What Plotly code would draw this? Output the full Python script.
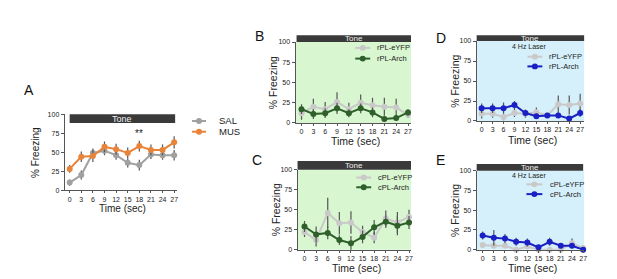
import plotly.graph_objects as go

W, H = 617, 279
time_s = [0, 3, 6, 9, 12, 15, 18, 21, 24, 27]
y_ticks = [0, 25, 50, 75, 100]

# Panel A
sal = [10, 20, 49, 52, 46, 36, 33, 47, 46, 46]
sal_err = [4, 6, 6, 6, 6, 6, 7, 6, 6, 7]
mus = [28, 44, 45, 57, 54, 49, 58, 53, 53, 63]
mus_err = [5, 7, 8, 7, 7, 7, 7, 7, 7, 8]
# Panel B
rpl_eyfp_b = [12, 20, 17, 26, 17, 25, 22, 20, 19, 10]
rpl_eyfp_b_err = [8, 10, 9, 12, 8, 10, 9, 11, 11, 4]
rpl_arch_b = [17, 11, 12, 18, 12, 18, 13, 5, 6, 13]
rpl_arch_b_err = [6, 6, 6, 7, 5, 6, 6, 3, 3, 4]
# Panel C
cpl_eyfp_c = [22, 12, 46, 33, 34, 22, 15, 39, 34, 41]
cpl_eyfp_c_err = [6, 8, 19, 14, 14, 8, 7, 10, 13, 9]
cpl_arch_c = [29, 19, 21, 12, 8, 16, 28, 35, 30, 34]
cpl_arch_c_err = [7, 10, 8, 6, 9, 8, 9, 8, 12, 8]
# Panel D
rpl_eyfp_d = [9, 9, 5, 10, 9, 11, 7, 21, 20, 22]
rpl_eyfp_d_err = [6, 5, 4, 5, 5, 6, 3, 11, 12, 12]
rpl_arch_d = [16, 16, 16, 20, 10, 6, 7, 7, 3, 10]
rpl_arch_d_err = [6, 6, 7, 5, 4, 3, 3, 3, 2, 5]
# Panel E
cpl_eyfp_e = [6, 5, 5, 0, 4, 0, 0, 0, 8, 2]
cpl_eyfp_e_err = [2, 2, 2, 1, 2, 1, 1, 1, 6, 2]
cpl_arch_e = [18, 15, 14, 10, 9, 3, 10, 5, 5, 0]
cpl_arch_e_err = [5, 10, 6, 5, 5, 2, 5, 3, 3, 2]

FONT = "Arial, Liberation Sans, sans-serif"
AX_COL = "#555555"
ERR_COL = "#555555"

panels = {
    "A": dict(l=65, r=178, x0=70, x27=175, y0=191, y100=113),
    "B": dict(l=297, r=413, x0=303, x27=410, y0=122, y100=39),
    "C": dict(l=299, r=413, x0=306, x27=411, y0=252, y100=170),
    "D": dict(l=479, r=587, x0=484, x27=583, y0=120, y100=38),
    "E": dict(l=479, r=587, x0=485, x27=586, y0=252, y100=171),
}

fig = go.Figure()
layout = dict(width=W, height=H, margin=dict(l=0, r=0, t=0, b=0),
              paper_bgcolor="white", plot_bgcolor="rgba(0,0,0,0)",
              showlegend=False, font=dict(family=FONT, color="#222"))
shapes, annots = [], []

def px(x):
    return x / W

def py(y):
    return 1 - y / H

series = {
    "A": [(sal, sal_err, "#a0a0a0"), (mus, mus_err, "#e8833a")],
    "B": [(rpl_eyfp_b, rpl_eyfp_b_err, "#c9c9c9"), (rpl_arch_b, rpl_arch_b_err, "#2f5f2b")],
    "C": [(cpl_eyfp_c, cpl_eyfp_c_err, "#c9c9c9"), (cpl_arch_c, cpl_arch_c_err, "#2f5f2b")],
    "D": [(rpl_eyfp_d, rpl_eyfp_d_err, "#c9c9c9"), (rpl_arch_d, rpl_arch_d_err, "#1a20c4")],
    "E": [(cpl_eyfp_e, cpl_eyfp_e_err, "#c9c9c9"), (cpl_arch_e, cpl_arch_e_err, "#1a20c4")],
}
bgs = {"A": None, "B": "#d8f6d0", "C": "#d8f6d0", "D": "#d5f0fa", "E": "#d5f0fa"}
tick_font = {"A": 7, "B": 7, "C": 7, "D": 7, "E": 7}
title_font = {"A": 10, "B": 10.5, "C": 10.5, "D": 10.5, "E": 10.5}

for i, (name, g) in enumerate(panels.items(), start=1):
    k = (g["x27"] - g["x0"]) / 27.0
    xr = [-(g["x0"] - g["l"]) / k, 27 + (g["r"] - g["x27"]) / k]
    xa = "xaxis" if i == 1 else f"xaxis{i}"
    ya = "yaxis" if i == 1 else f"yaxis{i}"
    xs = "x" if i == 1 else f"x{i}"
    ys = "y" if i == 1 else f"y{i}"
    layout[xa] = dict(domain=[px(g["l"]), px(g["r"])], range=xr, anchor=ys,
                      tickvals=time_s, ticks="outside", ticklen=2, tickcolor=AX_COL,
                      showline=True, linecolor=AX_COL, linewidth=1, showgrid=False,
                      zeroline=False, tickfont=dict(size=tick_font[name], family=FONT, color="#222"),
                      fixedrange=True)
    layout[ya] = dict(domain=[py(g["y0"]), py(g["y100"])], range=[0, 100], anchor=xs,
                      tickvals=y_ticks, ticks="outside", ticklen=3, tickcolor=AX_COL,
                      showline=True, linecolor=AX_COL, linewidth=1, showgrid=False,
                      zeroline=False, tickfont=dict(size=tick_font[name], family=FONT, color="#222"),
                      fixedrange=True)
    if bgs[name]:
        shapes.append(dict(type="rect", xref="paper", yref="paper",
                           x0=px(g["l"]), x1=px(g["r"]), y0=py(g["y0"]), y1=py(g["y100"]),
                           fillcolor=bgs[name], line=dict(width=0), layer="below"))
    for vals, errs, col in series[name]:
        fig.add_trace(go.Scatter(
            x=time_s, y=vals, xaxis=xs, yaxis=ys, mode="lines+markers",
            line=dict(color=col, width=2), marker=dict(color=col, size=6),
            error_y=dict(type="data", array=errs, color=ERR_COL, thickness=1.2, width=0),
            cliponaxis=False, hoverinfo="skip"))
    annots.append(dict(xref="paper", yref="paper", x=px((g["l"] + g["r"]) / 2 + 2),
                       y=py(g["y0"] + 19), text="Time (sec)", showarrow=False,
                       xanchor="center", yanchor="middle",
                       font=dict(size=title_font[name], family=FONT, color="#222")))
    annots.append(dict(xref="paper", yref="paper", x=px(g["l"] - 22 if name != "A" else g["l"] - 30),
                       y=py((g["y0"] + g["y100"]) / 2), text="% Freezing", textangle=-90,
                       showarrow=False, xanchor="center", yanchor="middle",
                       font=dict(size=title_font[name], family=FONT, color="#222")))

tone_bars = {
    "A": (70, 176, 113, 122, 9),
    "B": (298, 413, 32, 39, 8),
    "C": (299, 413, 161, 170, 8),
    "D": (479, 587, 32, 38, 8),
    "E": (479, 586, 164, 171, 8),
}
for name, (x0, x1, y0, y1, fs) in tone_bars.items():
    shapes.append(dict(type="rect", xref="paper", yref="paper", x0=px(x0), x1=px(x1),
                       y0=py(y1), y1=py(y0), fillcolor="#3a3a3a", line=dict(width=0)))
    annots.append(dict(xref="paper", yref="paper", x=px((x0 + x1) / 2), y=py((y0 + y1) / 2),
                       text="Tone", showarrow=False, xanchor="center", yanchor="middle",
                       font=dict(size=fs, family=FONT, color="#f0f0f0")))

for name, (x, y) in {"A": (29, 88), "B": (261, 33), "C": (258, 160), "D": (443, 35), "E": (443, 160)}.items():
    annots.append(dict(xref="paper", yref="paper", x=px(x), y=py(y), text=name, showarrow=False,
                       xanchor="center", yanchor="middle", font=dict(size=14, family=FONT, color="#111")))

annots.append(dict(xref="x", yref="y", x=18, y=74, text="**", showarrow=False,
                   font=dict(size=10, family=FONT, color="#222")))

for y in (44, 176):
    annots.append(dict(xref="paper", yref="paper", x=px(532), y=py(y), text="4 Hz Laser",
                       showarrow=False, xanchor="center", yanchor="middle",
                       font=dict(size=7, family=FONT, color="#222")))

legends = [
    (193, 207, 218, 120, "SAL", "#a0a0a0", 9.5),
    (193, 207, 218, 131, "MUS", "#e8833a", 9.5),
    (357, 372, 377, 45, "rPL-eYFP", "#c9c9c9", 7.5),
    (357, 372, 377, 56, "rPL-Arch", "#2f5f2b", 7.5),
    (358, 373, 378, 178, "cPL-eYFP", "#c9c9c9", 7.5),
    (358, 373, 378, 188, "cPL-Arch", "#2f5f2b", 7.5),
    (530, 545, 550, 54, "rPL-eYFP", "#c9c9c9", 7.5),
    (530, 545, 550, 64, "rPL-Arch", "#1a20c4", 7.5),
    (529, 545, 551, 185, "cPL-eYFP", "#c9c9c9", 7.5),
    (529, 545, 551, 195, "cPL-Arch", "#1a20c4", 7.5),
]
for x0, x1, tx, y, txt, col, fs in legends:
    shapes.append(dict(type="line", xref="paper", yref="paper", x0=px(x0), x1=px(x1),
                       y0=py(y), y1=py(y), line=dict(color=col, width=2)))
    cx = (x0 + x1) / 2
    shapes.append(dict(type="circle", xref="paper", yref="paper", x0=px(cx - 3), x1=px(cx + 3),
                       y0=py(y + 3), y1=py(y - 3), fillcolor=col, line=dict(width=0)))
    annots.append(dict(xref="paper", yref="paper", x=px(tx), y=py(y), text=txt, showarrow=False,
                       xanchor="left", yanchor="middle", font=dict(size=fs, family=FONT, color="#222")))

layout["shapes"] = shapes
layout["annotations"] = annots
fig.update_layout(**layout)
fig.write_html("out.html", config={"displayModeBar": False},
               post_script="document.body.style.margin='0px';")
